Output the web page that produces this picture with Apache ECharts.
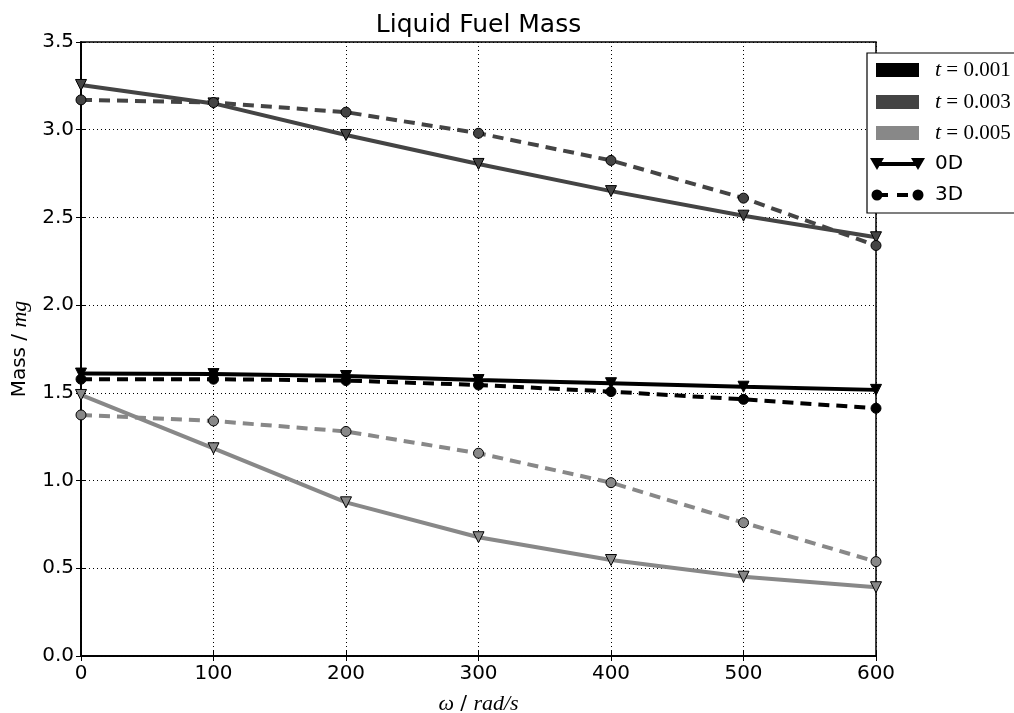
<!DOCTYPE html>
<html>
<head>
<meta charset="utf-8">
<script src="https://cdn.jsdelivr.net/npm/echarts@6/dist/echarts.min.js"></script>
<style>html,body{margin:0;padding:0;background:#fff;}#c{width:1014px;height:713px;}</style>
</head>
<body>
<div id="c"></div>
<script>
// ---- data ----
var omega = [0, 100, 200, 300, 400, 500, 600];
var mass0D_t001 = [1.61, 1.607, 1.596, 1.573, 1.555, 1.535, 1.517];
var mass3D_t001 = [1.578, 1.578, 1.57, 1.545, 1.507, 1.463, 1.412];
var mass0D_t003 = [3.255, 3.15, 2.97, 2.805, 2.65, 2.51, 2.387];
var mass3D_t003 = [3.17, 3.155, 3.10, 2.98, 2.825, 2.61, 2.34];
var mass0D_t005 = [1.488, 1.184, 0.876, 0.677, 0.547, 0.452, 0.392];
var mass3D_t005 = [1.374, 1.34, 1.28, 1.156, 0.988, 0.76, 0.538];
var xTicks = [0, 100, 200, 300, 400, 500, 600];
var yTicks = [0.0, 0.5, 1.0, 1.5, 2.0, 2.5, 3.0, 3.5];
var legendT = ['0.001', '0.003', '0.005'];
var legendModel = ['0D', '3D'];

var colors = ['#000000', '#444444', '#888888'];

function pairs(ys) { return omega.map(function (x, i) { return [x, ys[i]]; }); }

function mk(name, ys, color, is3D) {
  return {
    name: name,
    type: 'line',
    data: pairs(ys),
    symbol: is3D ? 'circle' : 'triangle',
    symbolRotate: is3D ? 0 : 180,
    symbolSize: is3D ? 10 : 11,
    showSymbol: true,
    clip: false,
    lineStyle: { color: color, width: 4, type: is3D ? [11, 7] : 'solid' },
    itemStyle: { color: color, borderColor: '#000', borderWidth: 1 },
    emphasis: { disabled: true },
    animation: false,
    z: 3
  };
}

var chart = echarts.init(document.getElementById('c'), null, { renderer: 'canvas' });

var L = 81, R = 876, T = 42, B = 656;
var serif = 'Liberation Serif';

var G = [];
var lx = 867, ly = 53, lw = 160, lh = 160;
G.push({ type: 'rect', shape: { x: lx, y: ly, width: lw, height: lh }, style: { fill: '#fff', stroke: '#000', lineWidth: 1.2 }, z: 100 });
var rowY = [70, 102, 133, 164, 195];
legendT.forEach(function (t, i) {
  G.push({ type: 'rect', shape: { x: 876, y: rowY[i] - 7, width: 43, height: 14 }, style: { fill: colors[i] }, z: 101 });
  G.push({ type: 'text', x: 935, y: rowY[i], style: { text: '{i|t}{n| = ' + t + '}', rich: { i: { fontFamily: serif, fontStyle: 'italic', fontSize: 22, fill: '#000' }, n: { fontFamily: serif, fontSize: 21, fill: '#000' } }, verticalAlign: 'middle', textVerticalAlign: 'middle' }, z: 101 });
});
// 0D icon
G.push({ type: 'line', shape: { x1: 878, y1: rowY[3], x2: 917, y2: rowY[3] }, style: { stroke: '#000', lineWidth: 4 }, z: 101 });
G.push({ type: 'polygon', shape: { points: [[870, rowY[3] - 6], [884, rowY[3] - 6], [877, rowY[3] + 6]] }, style: { fill: '#000' }, z: 102 });
G.push({ type: 'polygon', shape: { points: [[911, rowY[3] - 6], [925, rowY[3] - 6], [918, rowY[3] + 6]] }, style: { fill: '#000' }, z: 102 });
G.push({ type: 'text', x: 935, y: rowY[3], style: { text: legendModel[0], fontFamily: 'DejaVu Sans', fontSize: 20, fill: '#000', verticalAlign: 'middle', textVerticalAlign: 'middle' }, z: 101 });
// 3D icon
G.push({ type: 'line', shape: { x1: 877, y1: rowY[4], x2: 918, y2: rowY[4] }, style: { stroke: '#000', lineWidth: 4, lineDash: [11, 9] }, z: 101 });
G.push({ type: 'circle', shape: { cx: 877, cy: rowY[4], r: 5.5 }, style: { fill: '#000' }, z: 102 });
G.push({ type: 'circle', shape: { cx: 918, cy: rowY[4], r: 5.5 }, style: { fill: '#000' }, z: 102 });
G.push({ type: 'text', x: 935, y: rowY[4], style: { text: legendModel[1], fontFamily: 'DejaVu Sans', fontSize: 20, fill: '#000', verticalAlign: 'middle', textVerticalAlign: 'middle' }, z: 101 });

// title
G.push({ type: 'text', x: (L + R) / 2, y: 25, style: { text: 'Liquid Fuel Mass', fontFamily: 'DejaVu Sans', fontSize: 25, fill: '#000', align: 'center', textAlign: 'center', verticalAlign: 'middle', textVerticalAlign: 'middle' }, z: 101 });

var axisLabelFont = { fontFamily: 'DejaVu Sans', fontSize: 20, color: '#000' };

var option = {
  backgroundColor: '#fff',
  animation: false,
  grid: { left: L, right: 1014 - R, top: T, bottom: 713 - B, show: true, borderColor: '#000', borderWidth: 1.5, backgroundColor: 'transparent', containLabel: false, outerBoundsMode: 'none' },
  xAxis: [{
    type: 'value', min: 0, max: 600, interval: 100, position: 'bottom',
    axisLine: { show: true, lineStyle: { color: '#000', width: 1.5 } },
    axisTick: { show: true, inside: true, length: 5, lineStyle: { color: '#000' } },
    axisLabel: Object.assign({ margin: 8, formatter: function (v) { return xTicks.indexOf(v) >= 0 ? String(v) : ''; } }, axisLabelFont),
    splitLine: { show: true, lineStyle: { color: '#000', type: [1, 3], width: 1 } },
    name: '{i|ω} / {i|rad/s}', nameLocation: 'middle', nameGap: 37,
    nameTextStyle: { rich: { i: { fontFamily: serif, fontStyle: 'italic', fontSize: 22, color: '#000' } }, fontFamily: 'DejaVu Sans', fontSize: 20, color: '#000' }
  }, {
    type: 'value', min: 0, max: 600, interval: 100, position: 'top',
    axisLine: { show: true, lineStyle: { color: '#000', width: 1.5 } },
    axisTick: { show: true, inside: true, length: 5, lineStyle: { color: '#000' } },
    axisLabel: { show: false }, splitLine: { show: false }
  }],
  yAxis: [{
    type: 'value', min: 0, max: 3.5, interval: 0.5, position: 'left',
    axisLine: { show: true, lineStyle: { color: '#000', width: 1.5 } },
    axisTick: { show: true, inside: true, length: 5, lineStyle: { color: '#000' } },
    axisLabel: Object.assign({ margin: 7, formatter: function (v) { var i = yTicks.indexOf(Math.round(v * 10) / 10); return i >= 0 ? yTicks[i].toFixed(1) : ''; } }, axisLabelFont),
    splitLine: { show: true, lineStyle: { color: '#000', type: [1, 3], width: 1 } },
    name: 'Mass / {i|mg}', nameLocation: 'middle', nameGap: 46, nameRotate: 90,
    nameTextStyle: { fontFamily: 'DejaVu Sans', fontSize: 20, color: '#000', rich: { i: { fontFamily: serif, fontStyle: 'italic', fontSize: 22, color: '#000' } } }
  }, {
    type: 'value', min: 0, max: 3.5, interval: 0.5, position: 'right',
    axisLine: { show: true, lineStyle: { color: '#000', width: 1.5 } },
    axisTick: { show: true, inside: true, length: 5, lineStyle: { color: '#000' } },
    axisLabel: { show: false }, splitLine: { show: false }
  }],
  series: [
    mk('t=0.001 0D', mass0D_t001, colors[0], false),
    mk('t=0.001 3D', mass3D_t001, colors[0], true),
    mk('t=0.003 0D', mass0D_t003, colors[1], false),
    mk('t=0.003 3D', mass3D_t003, colors[1], true),
    mk('t=0.005 0D', mass0D_t005, colors[2], false),
    mk('t=0.005 3D', mass3D_t005, colors[2], true)
  ],
  graphic: G
};
chart.setOption(option);
</script>
</body>
</html>
